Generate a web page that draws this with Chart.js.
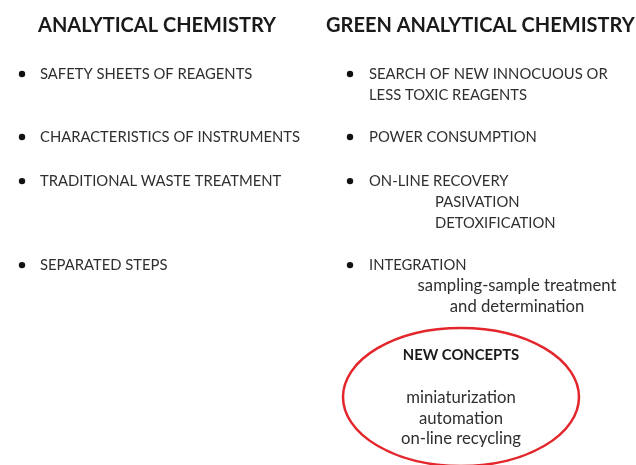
<!DOCTYPE html>
<html>
<head>
<meta charset="utf-8">
<script src="https://cdn.jsdelivr.net/npm/chart.js@4.4.0/dist/chart.umd.min.js"></script>
<style>
  html, body { margin: 0; background: #fff; }
  #wrap { width: 636px; height: 465px; }
</style>
</head>
<body>
<div id="wrap"><canvas id="slide"></canvas></div>
<script>
// slide content, one column per array
const headings   = ['ANALYTICAL CHEMISTRY', 'GREEN ANALYTICAL CHEMISTRY'];
const leftItems  = ['SAFETY SHEETS OF REAGENTS', 'CHARACTERISTICS OF INSTRUMENTS',
                    'TRADITIONAL WASTE TREATMENT', 'SEPARATED STEPS'];
const rightItems = ['SEARCH OF NEW INNOCUOUS OR', 'POWER CONSUMPTION',
                    'ON-LINE RECOVERY', 'INTEGRATION'];
const rightSub   = [['LESS TOXIC REAGENTS'], [], ['PASIVATION', 'DETOXIFICATION'],
                    ['sampling-sample treatment', 'and determination']];
// line number of each bullet on the slide
const bulletLines = [0, 3, 5.1, 9.1];
const conceptTitle = 'NEW CONCEPTS';
const concepts = ['miniaturization', 'automation', 'on-line recycling'];

const FONT = 'Lato, "Open Sans", sans-serif';
const CAPS = 14.8, LOWER = 16.7;

// draws the words, titles and the red ellipse around the bullet points
const slideText = {
  id: 'slideText',
  afterDatasetsDraw(chart) {
    const { ctx, scales: { x, y } } = chart;
    const cx = [x.getPixelForValue(0), x.getPixelForValue(1)];
    const line = v => y.getPixelForValue(v);
    const put = (txt, px, v, size, align) => {
      ctx.textAlign = align || 'left';
      ctx.fillText(txt, px, line(v) + size * 0.36);
    };
    const body = (size, bold) => {
      ctx.font = (bold ? 'bold ' : '') + size + 'px ' + FONT;
      ctx.fillStyle = bold ? '#1a1a1a' : '#2f2f2f';
    };
    ctx.save();
    ctx.textBaseline = 'alphabetic';

    body(20, true);
    put(headings[0], cx[0] + 16, -2.33, 20);
    put(headings[1], cx[1] - 24, -2.33, 20);

    body(CAPS);
    leftItems.forEach((t, i) => put(t, cx[0] + 18, bulletLines[i], CAPS));
    rightItems.forEach((t, i) => {
      put(t, cx[1] + 19, bulletLines[i], CAPS);
      rightSub[i].forEach((s, k) => {
        const v = bulletLines[i] + k + 1;
        if (i === 0) put(s, cx[1] + 19, v, CAPS);
        else if (i === 2) put(s, cx[1] + 85, v, CAPS);
        else {
          body(LOWER);
          put(s, cx[1] + 167, v + 0.04, LOWER * 0.75, 'center');
          body(CAPS);
        }
      });
    });

    // new concepts ellipse
    const ex = cx[1] + 111, ey = line(15.38);
    ctx.beginPath();
    ctx.ellipse(ex, ey, 118, 69, 0, 0, Math.PI * 2);
    ctx.strokeStyle = '#e3262b';
    ctx.lineWidth = 2.5;
    ctx.stroke();

    body(CAPS, true);
    put(conceptTitle, ex, 13.38, CAPS, 'center');
    body(LOWER);
    concepts.forEach((t, k) => put(t, ex, 15.45 + k * 0.98, LOWER * 0.75, 'center'));
    ctx.restore();
  }
};

new Chart(document.getElementById('slide'), {
  type: 'scatter',
  data: {
    datasets: [
      { label: 'left', data: bulletLines.map(v => ({ x: 0, y: v })) },
      { label: 'right', data: bulletLines.map(v => ({ x: 1, y: v })) }
    ].map(d => Object.assign(d, {
      pointRadius: 3.2, pointBackgroundColor: '#111', pointBorderWidth: 0, clip: false
    }))
  },
  options: {
    responsive: true,
    maintainAspectRatio: false,
    animation: false,
    layout: { padding: { left: 22, right: 286, top: 74, bottom: 13 } },
    scales: {
      x: { type: 'linear', min: 0, max: 1, display: false },
      y: { type: 'linear', min: 0, max: 18, reverse: true, display: false }
    },
    plugins: { legend: { display: false }, tooltip: { enabled: false } }
  },
  plugins: [slideText]
});
</script>
</body>
</html>
